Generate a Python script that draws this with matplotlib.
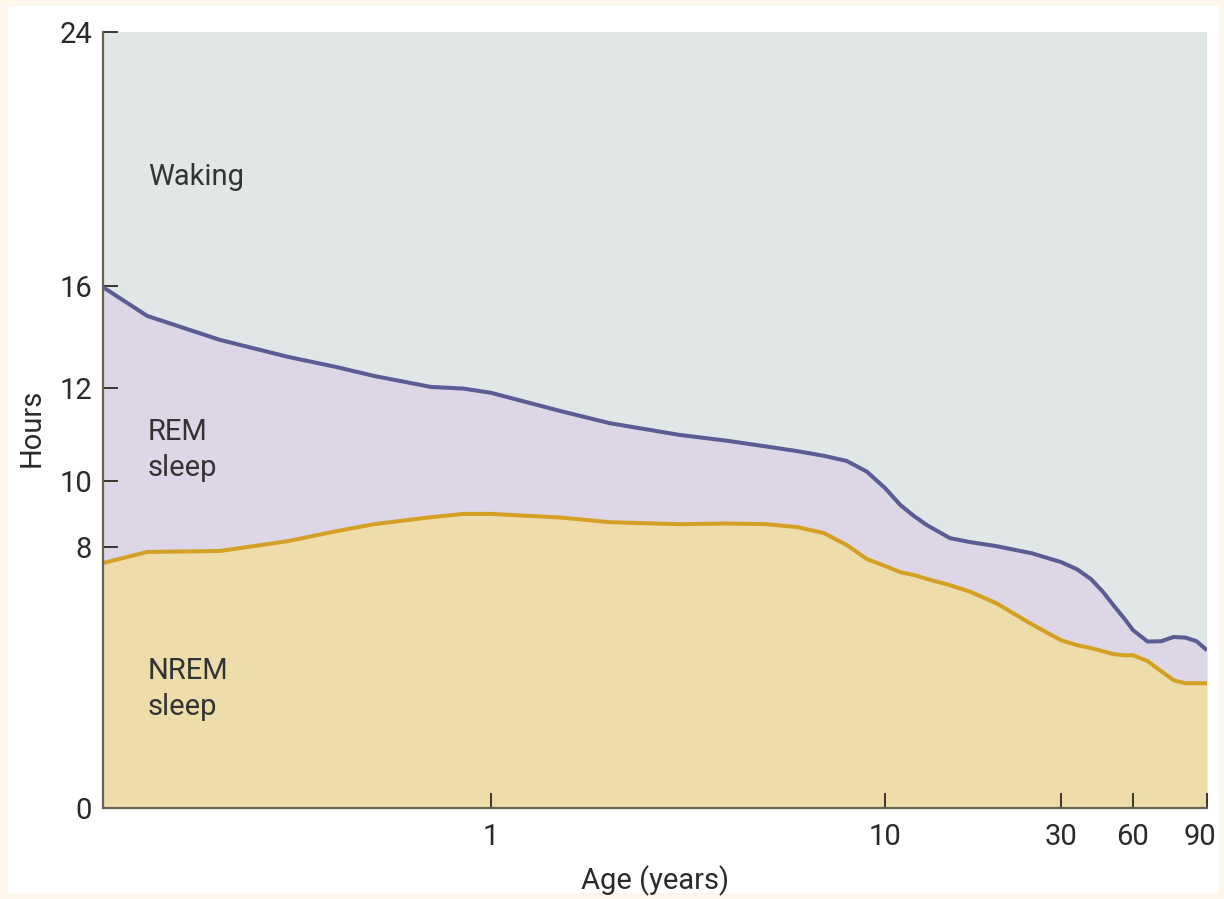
import numpy as np
import matplotlib
matplotlib.use("Agg")
import matplotlib.pyplot as plt
from matplotlib.patches import Rectangle
import matplotlib.transforms as mtransforms

# ---- data ----
ages = [0.1, 0.13, 0.2, 0.3, 0.4, 0.5, 0.7, 0.85, 1, 1.5, 2, 3, 4, 5, 6, 7, 8, 9,
        10, 11, 12, 13, 15, 17, 20, 25, 30, 35, 40, 45, 50, 55, 60, 65, 70, 75, 80, 85, 90]
total_sleep = [15.95, 14.82, 13.88, 13.21, 12.81, 12.46, 12.03, 11.98, 11.89, 11.50,
               11.24, 10.99, 10.86, 10.74, 10.64, 10.54, 10.43, 10.20, 9.79, 9.28,
               8.94, 8.67, 8.28, 8.16, 8.04, 7.82, 7.55, 7.33, 7.03, 6.63, 6.20, 5.83,
               5.46, 5.11, 5.12, 5.25, 5.23, 5.12, 4.84]
nrem_sleep = [7.52, 7.86, 7.89, 8.19, 8.49, 8.70, 8.91, 9.01, 9.01, 8.90, 8.76, 8.70,
              8.72, 8.70, 8.61, 8.43, 8.07, 7.64, 7.43, 7.24, 7.15, 7.03, 6.84, 6.64,
              6.29, 5.64, 5.15, 5.00, 4.91, 4.81, 4.72, 4.69, 4.69, 4.51, 4.20, 3.92,
              3.83, 3.83, 3.83]
x_ticks = [1, 10, 30, 60, 90]
x_tick_labels = ["1", "10", "30", "60", "90"]
y_ticks = [0, 8, 10, 12, 16, 24]
y_tick_labels = ["0", "8", "10", "12", "16", "24"]

# ---- axis scale knots (irregular hand-drawn axes) ----
X_KNOT_AGE = np.log10([0.1, 1, 10, 30, 60, 90])
X_KNOT_POS = np.array([0, 388, 782, 958, 1030, 1104]) / 1104.0
Y_KNOT_VAL = np.array([0, 8, 10, 12, 16, 24], dtype=float)
Y_KNOT_POS = np.array([0, 260.4, 326.7, 420.0, 521.7, 775.4]) / 775.4


def x_fwd(a):
    a = np.asarray(a, dtype=float)
    return np.interp(np.log10(np.clip(a, 1e-6, None)), X_KNOT_AGE, X_KNOT_POS,
                     left=-1, right=2)


def x_inv(p):
    p = np.asarray(p, dtype=float)
    return 10 ** np.interp(p, X_KNOT_POS, X_KNOT_AGE)


def y_fwd(v):
    v = np.asarray(v, dtype=float)
    return np.interp(v, Y_KNOT_VAL, Y_KNOT_POS, left=-1, right=2)


def y_inv(p):
    p = np.asarray(p, dtype=float)
    return np.interp(p, Y_KNOT_POS, Y_KNOT_VAL)


FONT = ["Roboto", "DejaVu Sans"]
plt.rcParams["font.family"] = FONT
FS = 21

W, H = 1224, 899
fig = plt.figure(figsize=(W / 100, H / 100), dpi=100)
fig.patch.set_facecolor("#fdf6ea")
fig.patches.append(Rectangle((8 / W, 6 / H), (1219 - 8) / W, (893 - 6) / H,
                             transform=fig.transFigure, facecolor="white",
                             edgecolor="none", zorder=-10))

ax = fig.add_axes([103 / W, 1 - 808 / H, (1207 - 103) / W, (808 - 32) / H])
ax.set_zorder(2)
ax.set_xscale("function", functions=(x_fwd, x_inv))
ax.set_yscale("function", functions=(y_fwd, y_inv))
ax.set_xlim(0.1, 90)
ax.set_ylim(0, 24)
ax.set_facecolor("#e1e7e6")

c_rem = "#dcd6e6"
c_nrem = "#efdcab"
ax.fill_between(ages, nrem_sleep, total_sleep, color=c_rem, lw=0, zorder=1)
ax.fill_between(ages, 0, nrem_sleep, color=c_nrem, lw=0, zorder=1)
ax.plot(ages, total_sleep, color="#5c5c94", lw=2.9, zorder=3,
        solid_capstyle="butt", solid_joinstyle="round")
ax.plot(ages, nrem_sleep, color="#d4a024", lw=2.9, zorder=3,
        solid_capstyle="butt", solid_joinstyle="round")

for s in ["top", "right"]:
    ax.spines[s].set_visible(False)
for s in ["left", "bottom"]:
    ax.spines[s].set_color("#6b6352")
    ax.spines[s].set_linewidth(1.6)
    ax.spines[s].set_zorder(5)

ax.set_xticks(x_ticks)
ax.set_xticklabels(x_tick_labels)
ax.set_yticks(y_ticks)
ax.set_yticklabels(y_tick_labels)
ax.minorticks_off()
ax.tick_params(axis="both", direction="in", length=11, width=1.4,
               color="#3a3530", labelsize=FS, labelcolor="#2a2a2a", pad=8)
ax.tick_params(axis="x", pad=11)

ax.set_xlabel("Age (years)", fontsize=FS, color="#2a2a2a", labelpad=10)
ax.set_ylabel("Hours", fontsize=FS, color="#2a2a2a")
ax.yaxis.set_label_coords(-0.052, 0.49)

tkw = dict(fontsize=FS, color="#333333", transform=ax.transAxes,
           ha="left", va="center", linespacing=1.32, zorder=6)
ax.text(45 / 1104, (808 - 177) / 776, "Waking", **tkw)
ax.text(45 / 1104, (808 - 450) / 776, "REM\nsleep", **tkw)
ax.text(45 / 1104, (808 - 689) / 776, "NREM\nsleep", **tkw)

# keep last x label inside the panel like the reference
fig.canvas.draw()
lab = ax.get_xticklabels()[-1]
lab.set_transform(lab.get_transform() +
                  mtransforms.ScaledTranslation(-7 / 100, 0, fig.dpi_scale_trans))

fig.savefig("out.png", dpi=100, facecolor=fig.get_facecolor())
